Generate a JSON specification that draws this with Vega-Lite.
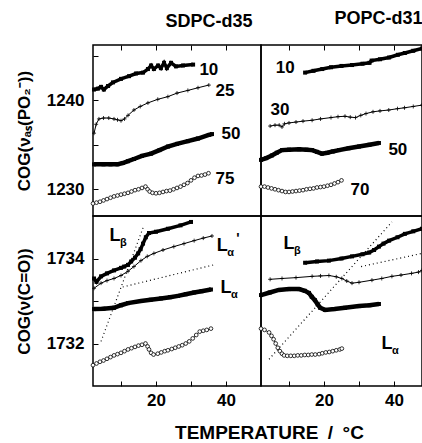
{
"$schema": "https://vega.github.io/schema/vega-lite/v6.json",
"padding": {"left": 14, "top": 8, "right": 0, "bottom": 0},
"config": {
 "font": "Liberation Sans",
 "view": {"stroke": "black", "strokeWidth": 1.5},
 "axis": {"domain": false, "grid": false, "tickColor": "black", "tickWidth": 1, "tickSize": -5, "labelPadding": 14, "labelFont": "Liberation Sans", "labelFontSize": 17, "labelFontWeight": "bold", "labelColor": "black", "titleFont": "Liberation Sans", "titleFontSize": 17, "titleFontWeight": "bold", "titleColor": "black"},
 "title": {"font": "Liberation Sans", "fontSize": 18, "fontWeight": "bold", "color": "black", "baseline": "alphabetic", "offset": 14},
 "line": {"color": "black"},
 "point": {"opacity": 1},
 "text": {"font": "Liberation Sans", "fontWeight": "bold", "color": "black"}
},
"data": {"values": [
{"p":"TL","s":"a","T":2.3,"v":1241.2},{"p":"TL","s":"a","T":3.4,"v":1241.3},{"p":"TL","s":"a","T":4.3,"v":1241.5},{"p":"TL","s":"a","T":5.1,"v":1241.2},{"p":"TL","s":"a","T":6.3,"v":1241.6},{"p":"TL","s":"a","T":7.7,"v":1242.0},{"p":"TL","s":"a","T":10,"v":1242.4},{"p":"TL","s":"a","T":12.3,"v":1242.7},{"p":"TL","s":"a","T":14.3,"v":1243.0},{"p":"TL","s":"a","T":16.3,"v":1243.1},{"p":"TL","s":"a","T":17.7,"v":1243.5},{"p":"TL","s":"a","T":18.6,"v":1243.9},{"p":"TL","s":"a","T":19.4,"v":1243.5},{"p":"TL","s":"a","T":20.6,"v":1243.9},{"p":"TL","s":"a","T":21.4,"v":1243.6},{"p":"TL","s":"a","T":22.3,"v":1244.2},{"p":"TL","s":"a","T":23.1,"v":1243.6},{"p":"TL","s":"a","T":24.3,"v":1244.2},{"p":"TL","s":"a","T":25.7,"v":1243.8},{"p":"TL","s":"a","T":27.7,"v":1243.9},{"p":"TL","s":"a","T":30.6,"v":1244.0},
{"p":"TL","s":"b","T":2.3,"v":1236.3},{"p":"TL","s":"b","T":2.9,"v":1237.3},{"p":"TL","s":"b","T":3.7,"v":1237.9},{"p":"TL","s":"b","T":5,"v":1238.0},{"p":"TL","s":"b","T":6.5,"v":1238.0},{"p":"TL","s":"b","T":8,"v":1237.9},{"p":"TL","s":"b","T":9,"v":1237.8},{"p":"TL","s":"b","T":10,"v":1237.7},{"p":"TL","s":"b","T":11,"v":1237.9},{"p":"TL","s":"b","T":12,"v":1238.3},{"p":"TL","s":"b","T":13.7,"v":1238.9},{"p":"TL","s":"b","T":15.5,"v":1239.3},{"p":"TL","s":"b","T":17.7,"v":1239.7},{"p":"TL","s":"b","T":20.5,"v":1240.1},{"p":"TL","s":"b","T":23.4,"v":1240.4},{"p":"TL","s":"b","T":26,"v":1240.8},{"p":"TL","s":"b","T":29.1,"v":1241.1},{"p":"TL","s":"b","T":32,"v":1241.4},{"p":"TL","s":"b","T":35.1,"v":1241.7},
{"p":"TL","s":"c","T":2.3,"v":1232.8},{"p":"TL","s":"c","T":5,"v":1232.8},{"p":"TL","s":"c","T":7,"v":1232.8},{"p":"TL","s":"c","T":9,"v":1232.8},{"p":"TL","s":"c","T":10.5,"v":1232.95},{"p":"TL","s":"c","T":12,"v":1233.15},{"p":"TL","s":"c","T":13.7,"v":1233.4},{"p":"TL","s":"c","T":16,"v":1233.75},{"p":"TL","s":"c","T":18.6,"v":1234.0},{"p":"TL","s":"c","T":21,"v":1234.4},{"p":"TL","s":"c","T":23.4,"v":1234.8},{"p":"TL","s":"c","T":26,"v":1235.1},{"p":"TL","s":"c","T":29.1,"v":1235.4},{"p":"TL","s":"c","T":32,"v":1235.7},{"p":"TL","s":"c","T":35.1,"v":1236.1},{"p":"TL","s":"c","T":36,"v":1236.2},
{"p":"TL","s":"d","T":2,"v":1228.4},{"p":"TL","s":"d","T":3,"v":1228.5},{"p":"TL","s":"d","T":4,"v":1228.6},{"p":"TL","s":"d","T":5,"v":1228.75},{"p":"TL","s":"d","T":6,"v":1228.9},{"p":"TL","s":"d","T":7,"v":1229.05},{"p":"TL","s":"d","T":8,"v":1229.2},{"p":"TL","s":"d","T":9,"v":1229.3},{"p":"TL","s":"d","T":10,"v":1229.4},{"p":"TL","s":"d","T":11,"v":1229.5},{"p":"TL","s":"d","T":12,"v":1229.6},{"p":"TL","s":"d","T":13,"v":1229.75},{"p":"TL","s":"d","T":14,"v":1229.9},{"p":"TL","s":"d","T":15,"v":1230.0},{"p":"TL","s":"d","T":16,"v":1230.15},{"p":"TL","s":"d","T":17,"v":1230.3},{"p":"TL","s":"d","T":17.6,"v":1230.0},{"p":"TL","s":"d","T":18.2,"v":1229.75},{"p":"TL","s":"d","T":19,"v":1229.6},{"p":"TL","s":"d","T":20,"v":1229.55},{"p":"TL","s":"d","T":21,"v":1229.6},{"p":"TL","s":"d","T":22,"v":1229.7},{"p":"TL","s":"d","T":23,"v":1229.8},{"p":"TL","s":"d","T":24,"v":1229.85},{"p":"TL","s":"d","T":25,"v":1230.0},{"p":"TL","s":"d","T":26,"v":1230.15},{"p":"TL","s":"d","T":27,"v":1230.3},{"p":"TL","s":"d","T":28,"v":1230.5},{"p":"TL","s":"d","T":29,"v":1230.7},{"p":"TL","s":"d","T":30,"v":1231.0},{"p":"TL","s":"d","T":31,"v":1231.3},{"p":"TL","s":"d","T":32,"v":1231.5},{"p":"TL","s":"d","T":33,"v":1231.55},{"p":"TL","s":"d","T":34,"v":1231.65},{"p":"TL","s":"d","T":35,"v":1231.8},
{"p":"TL","s":"lab","T":35.1,"v":1243.4,"t":"10"},{"p":"TL","s":"lab","T":39.7,"v":1241.0,"t":"25"},{"p":"TL","s":"lab","T":41.4,"v":1236.2,"t":"50"},{"p":"TL","s":"lab","T":39.7,"v":1231.2,"t":"75"},

{"p":"TR","s":"a","T":14.6,"v":1243.1},{"p":"TR","s":"a","T":17,"v":1243.3},{"p":"TR","s":"a","T":19.5,"v":1243.5},{"p":"TR","s":"a","T":22,"v":1243.7},{"p":"TR","s":"a","T":25,"v":1243.85},{"p":"TR","s":"a","T":28,"v":1243.95},{"p":"TR","s":"a","T":31,"v":1244.1},{"p":"TR","s":"a","T":33,"v":1244.2},{"p":"TR","s":"a","T":33.6,"v":1244.45},{"p":"TR","s":"a","T":36,"v":1244.6},{"p":"TR","s":"a","T":38.6,"v":1244.8},{"p":"TR","s":"a","T":41.1,"v":1245.1},{"p":"TR","s":"a","T":43.1,"v":1245.3},{"p":"TR","s":"a","T":45.5,"v":1245.55},{"p":"TR","s":"a","T":48,"v":1245.8},
{"p":"TR","s":"b","T":4.6,"v":1237.1},{"p":"TR","s":"b","T":6,"v":1237.2},{"p":"TR","s":"b","T":7.2,"v":1237.2},{"p":"TR","s":"b","T":8,"v":1237.0},{"p":"TR","s":"b","T":8.7,"v":1237.35},{"p":"TR","s":"b","T":10,"v":1237.45},{"p":"TR","s":"b","T":12,"v":1237.55},{"p":"TR","s":"b","T":14,"v":1237.65},{"p":"TR","s":"b","T":16.6,"v":1237.75},{"p":"TR","s":"b","T":19,"v":1237.9},{"p":"TR","s":"b","T":22,"v":1238.05},{"p":"TR","s":"b","T":24,"v":1238.15},{"p":"TR","s":"b","T":26,"v":1238.2},{"p":"TR","s":"b","T":27.5,"v":1238.1},{"p":"TR","s":"b","T":29,"v":1238.05},{"p":"TR","s":"b","T":30.5,"v":1238.3},{"p":"TR","s":"b","T":32,"v":1238.5},{"p":"TR","s":"b","T":34,"v":1238.7},{"p":"TR","s":"b","T":36,"v":1238.8},{"p":"TR","s":"b","T":38.5,"v":1238.9},{"p":"TR","s":"b","T":41,"v":1239.05},{"p":"TR","s":"b","T":43,"v":1239.15},{"p":"TR","s":"b","T":45.5,"v":1239.3},{"p":"TR","s":"b","T":48,"v":1239.45},
{"p":"TR","s":"c","T":2,"v":1233.3},{"p":"TR","s":"c","T":3.5,"v":1233.5},{"p":"TR","s":"c","T":5.1,"v":1233.8},{"p":"TR","s":"c","T":6.5,"v":1234.1},{"p":"TR","s":"c","T":8,"v":1234.4},{"p":"TR","s":"c","T":10,"v":1234.45},{"p":"TR","s":"c","T":12.9,"v":1234.5},{"p":"TR","s":"c","T":15,"v":1234.45},{"p":"TR","s":"c","T":16.6,"v":1234.4},{"p":"TR","s":"c","T":18,"v":1234.2},{"p":"TR","s":"c","T":19.4,"v":1234.0},{"p":"TR","s":"c","T":21,"v":1234.1},{"p":"TR","s":"c","T":22.5,"v":1234.25},{"p":"TR","s":"c","T":24.3,"v":1234.4},{"p":"TR","s":"c","T":27,"v":1234.6},{"p":"TR","s":"c","T":30,"v":1234.8},{"p":"TR","s":"c","T":33,"v":1235.0},{"p":"TR","s":"c","T":35.7,"v":1235.2},
{"p":"TR","s":"d","T":2,"v":1230.3},{"p":"TR","s":"d","T":3,"v":1230.3},{"p":"TR","s":"d","T":4,"v":1230.2},{"p":"TR","s":"d","T":5,"v":1230.1},{"p":"TR","s":"d","T":6,"v":1230.0},{"p":"TR","s":"d","T":7,"v":1229.9},{"p":"TR","s":"d","T":8,"v":1229.8},{"p":"TR","s":"d","T":9,"v":1229.7},{"p":"TR","s":"d","T":10,"v":1229.7},{"p":"TR","s":"d","T":11,"v":1229.75},{"p":"TR","s":"d","T":12,"v":1229.8},{"p":"TR","s":"d","T":13,"v":1229.85},{"p":"TR","s":"d","T":14,"v":1229.9},{"p":"TR","s":"d","T":15,"v":1230.0},{"p":"TR","s":"d","T":16,"v":1230.05},{"p":"TR","s":"d","T":17,"v":1230.1},{"p":"TR","s":"d","T":18,"v":1230.2},{"p":"TR","s":"d","T":19,"v":1230.25},{"p":"TR","s":"d","T":20,"v":1230.3},{"p":"TR","s":"d","T":21,"v":1230.4},{"p":"TR","s":"d","T":22,"v":1230.5},{"p":"TR","s":"d","T":23,"v":1230.65},{"p":"TR","s":"d","T":24,"v":1230.8},{"p":"TR","s":"d","T":25,"v":1231.0},
{"p":"TR","s":"lab","T":8.9,"v":1243.6,"t":"10"},{"p":"TR","s":"lab","T":7.4,"v":1238.9,"t":"30"},{"p":"TR","s":"lab","T":41.1,"v":1234.4,"t":"50"},{"p":"TR","s":"lab","T":30.3,"v":1229.9,"t":"70"},

{"p":"BL","s":"a","T":2.3,"v":1733.53},{"p":"BL","s":"a","T":3,"v":1733.45},{"p":"BL","s":"a","T":4.3,"v":1733.58},{"p":"BL","s":"a","T":6,"v":1733.65},{"p":"BL","s":"a","T":8,"v":1733.72},{"p":"BL","s":"a","T":10,"v":1733.78},{"p":"BL","s":"a","T":10.9,"v":1733.81},{"p":"BL","s":"a","T":12,"v":1733.85},{"p":"BL","s":"a","T":12.9,"v":1733.93},{"p":"BL","s":"a","T":14,"v":1734.02},{"p":"BL","s":"a","T":14.9,"v":1734.12},{"p":"BL","s":"a","T":15.6,"v":1734.22},{"p":"BL","s":"a","T":16.3,"v":1734.35},{"p":"BL","s":"a","T":17.1,"v":1734.5},{"p":"BL","s":"a","T":18,"v":1734.6},{"p":"BL","s":"a","T":20,"v":1734.63},{"p":"BL","s":"a","T":23.4,"v":1734.7},{"p":"BL","s":"a","T":27,"v":1734.78},{"p":"BL","s":"a","T":30,"v":1734.86},
{"p":"BL","s":"b","T":2.3,"v":1733.3},{"p":"BL","s":"b","T":4.3,"v":1733.42},{"p":"BL","s":"b","T":6,"v":1733.48},{"p":"BL","s":"b","T":8,"v":1733.53},{"p":"BL","s":"b","T":10,"v":1733.6},{"p":"BL","s":"b","T":12,"v":1733.7},{"p":"BL","s":"b","T":13.7,"v":1733.81},{"p":"BL","s":"b","T":15.7,"v":1733.95},{"p":"BL","s":"b","T":17.5,"v":1734.05},{"p":"BL","s":"b","T":19.4,"v":1734.12},{"p":"BL","s":"b","T":22,"v":1734.2},{"p":"BL","s":"b","T":25.1,"v":1734.28},{"p":"BL","s":"b","T":28,"v":1734.35},{"p":"BL","s":"b","T":30.9,"v":1734.42},{"p":"BL","s":"b","T":33.5,"v":1734.48},{"p":"BL","s":"b","T":36,"v":1734.53},
{"p":"BL","s":"c","T":2.3,"v":1732.81},{"p":"BL","s":"c","T":5,"v":1732.82},{"p":"BL","s":"c","T":8,"v":1732.84},{"p":"BL","s":"c","T":10,"v":1732.9},{"p":"BL","s":"c","T":12,"v":1732.95},{"p":"BL","s":"c","T":15.7,"v":1733.0},{"p":"BL","s":"c","T":18.5,"v":1733.03},{"p":"BL","s":"c","T":21.4,"v":1733.06},{"p":"BL","s":"c","T":24,"v":1733.09},{"p":"BL","s":"c","T":26.3,"v":1733.12},{"p":"BL","s":"c","T":28.5,"v":1733.16},{"p":"BL","s":"c","T":30.9,"v":1733.2},{"p":"BL","s":"c","T":33,"v":1733.23},{"p":"BL","s":"c","T":35.7,"v":1733.27},
{"p":"BL","s":"d","T":2,"v":1731.49},{"p":"BL","s":"d","T":3,"v":1731.53},{"p":"BL","s":"d","T":4,"v":1731.57},{"p":"BL","s":"d","T":5,"v":1731.6},{"p":"BL","s":"d","T":6,"v":1731.64},{"p":"BL","s":"d","T":7,"v":1731.68},{"p":"BL","s":"d","T":8,"v":1731.72},{"p":"BL","s":"d","T":9,"v":1731.75},{"p":"BL","s":"d","T":10,"v":1731.78},{"p":"BL","s":"d","T":11,"v":1731.82},{"p":"BL","s":"d","T":12,"v":1731.86},{"p":"BL","s":"d","T":13,"v":1731.89},{"p":"BL","s":"d","T":14,"v":1731.92},{"p":"BL","s":"d","T":15,"v":1731.95},{"p":"BL","s":"d","T":16,"v":1731.97},{"p":"BL","s":"d","T":17,"v":1732.0},{"p":"BL","s":"d","T":17.6,"v":1731.93},{"p":"BL","s":"d","T":18,"v":1731.86},{"p":"BL","s":"d","T":18.6,"v":1731.78},{"p":"BL","s":"d","T":19.3,"v":1731.74},{"p":"BL","s":"d","T":20.5,"v":1731.76},{"p":"BL","s":"d","T":21.5,"v":1731.79},{"p":"BL","s":"d","T":22.5,"v":1731.82},{"p":"BL","s":"d","T":23.4,"v":1731.84},{"p":"BL","s":"d","T":24.5,"v":1731.87},{"p":"BL","s":"d","T":25.5,"v":1731.9},{"p":"BL","s":"d","T":26.5,"v":1731.93},{"p":"BL","s":"d","T":27.5,"v":1731.96},{"p":"BL","s":"d","T":28.5,"v":1732.0},{"p":"BL","s":"d","T":29.5,"v":1732.05},{"p":"BL","s":"d","T":30.5,"v":1732.12},{"p":"BL","s":"d","T":31.5,"v":1732.2},{"p":"BL","s":"d","T":32.5,"v":1732.28},{"p":"BL","s":"d","T":33.5,"v":1732.3},{"p":"BL","s":"d","T":34.5,"v":1732.32},{"p":"BL","s":"d","T":35.7,"v":1732.35},
{"p":"BL","s":"f1","T":4.3,"v":1732.05},{"p":"BL","s":"f1","T":16.6,"v":1734.79},
{"p":"BL","s":"f2","T":10.5,"v":1733.33},{"p":"BL","s":"f2","T":36.5,"v":1733.85},
{"p":"BL","s":"lab","T":8.3,"v":1734.53,"t":"L","sub":"β"},{"p":"BL","s":"lab","T":38.9,"v":1734.3,"t":"L","sub":"α","sup":"'"},{"p":"BL","s":"lab","T":40,"v":1733.3,"t":"L","sub":"α"},

{"p":"BR","s":"a","T":14.6,"v":1733.9},{"p":"BR","s":"a","T":18,"v":1733.93},{"p":"BR","s":"a","T":21.4,"v":1733.95},{"p":"BR","s":"a","T":25,"v":1734.0},{"p":"BR","s":"a","T":28,"v":1734.05},{"p":"BR","s":"a","T":31,"v":1734.1},{"p":"BR","s":"a","T":32.9,"v":1734.14},{"p":"BR","s":"a","T":34.3,"v":1734.2},{"p":"BR","s":"a","T":35.7,"v":1734.28},{"p":"BR","s":"a","T":37,"v":1734.35},{"p":"BR","s":"a","T":38.6,"v":1734.42},{"p":"BR","s":"a","T":41,"v":1734.5},{"p":"BR","s":"a","T":43.1,"v":1734.58},{"p":"BR","s":"a","T":45.5,"v":1734.64},{"p":"BR","s":"a","T":48,"v":1734.7},
{"p":"BR","s":"b","T":4.6,"v":1733.51},{"p":"BR","s":"b","T":8,"v":1733.53},{"p":"BR","s":"b","T":12,"v":1733.55},{"p":"BR","s":"b","T":16.6,"v":1733.58},{"p":"BR","s":"b","T":19,"v":1733.59},{"p":"BR","s":"b","T":21.4,"v":1733.6},{"p":"BR","s":"b","T":23.5,"v":1733.57},{"p":"BR","s":"b","T":25.1,"v":1733.53},{"p":"BR","s":"b","T":26.5,"v":1733.47},{"p":"BR","s":"b","T":28,"v":1733.42},{"p":"BR","s":"b","T":30,"v":1733.44},{"p":"BR","s":"b","T":33.7,"v":1733.49},{"p":"BR","s":"b","T":36.5,"v":1733.53},{"p":"BR","s":"b","T":39.4,"v":1733.58},{"p":"BR","s":"b","T":42,"v":1733.61},{"p":"BR","s":"b","T":45,"v":1733.65},{"p":"BR","s":"b","T":47,"v":1733.68},{"p":"BR","s":"b","T":48,"v":1733.72},
{"p":"BR","s":"c","T":2,"v":1733.14},{"p":"BR","s":"c","T":4.5,"v":1733.2},{"p":"BR","s":"c","T":7.1,"v":1733.26},{"p":"BR","s":"c","T":10,"v":1733.28},{"p":"BR","s":"c","T":12.9,"v":1733.28},{"p":"BR","s":"c","T":14.5,"v":1733.24},{"p":"BR","s":"c","T":15.7,"v":1733.19},{"p":"BR","s":"c","T":16.5,"v":1733.1},{"p":"BR","s":"c","T":17.4,"v":1733.02},{"p":"BR","s":"c","T":18.2,"v":1732.92},{"p":"BR","s":"c","T":18.9,"v":1732.84},{"p":"BR","s":"c","T":20.3,"v":1732.79},{"p":"BR","s":"c","T":23,"v":1732.81},{"p":"BR","s":"c","T":26,"v":1732.84},{"p":"BR","s":"c","T":30,"v":1732.88},{"p":"BR","s":"c","T":33,"v":1732.9},{"p":"BR","s":"c","T":35.7,"v":1732.93},
{"p":"BR","s":"d","T":2,"v":1732.35},{"p":"BR","s":"d","T":3,"v":1732.32},{"p":"BR","s":"d","T":4.3,"v":1732.26},{"p":"BR","s":"d","T":5,"v":1732.18},{"p":"BR","s":"d","T":5.6,"v":1732.1},{"p":"BR","s":"d","T":6.2,"v":1732.0},{"p":"BR","s":"d","T":6.8,"v":1731.9},{"p":"BR","s":"d","T":7.4,"v":1731.82},{"p":"BR","s":"d","T":8,"v":1731.76},{"p":"BR","s":"d","T":8.6,"v":1731.72},{"p":"BR","s":"d","T":9.5,"v":1731.71},{"p":"BR","s":"d","T":10.5,"v":1731.71},{"p":"BR","s":"d","T":11.5,"v":1731.71},{"p":"BR","s":"d","T":12.5,"v":1731.72},{"p":"BR","s":"d","T":13.5,"v":1731.72},{"p":"BR","s":"d","T":14.5,"v":1731.73},{"p":"BR","s":"d","T":15.5,"v":1731.73},{"p":"BR","s":"d","T":16.5,"v":1731.74},{"p":"BR","s":"d","T":17.5,"v":1731.74},{"p":"BR","s":"d","T":18.6,"v":1731.75},{"p":"BR","s":"d","T":19.5,"v":1731.77},{"p":"BR","s":"d","T":20.5,"v":1731.79},{"p":"BR","s":"d","T":21.5,"v":1731.8},{"p":"BR","s":"d","T":22.5,"v":1731.82},{"p":"BR","s":"d","T":23.5,"v":1731.84},{"p":"BR","s":"d","T":24.5,"v":1731.86},{"p":"BR","s":"d","T":25.1,"v":1731.88},
{"p":"BR","s":"f1","T":4.3,"v":1731.63},{"p":"BR","s":"f1","T":39.4,"v":1734.86},
{"p":"BR","s":"f2","T":30.6,"v":1733.81},{"p":"BR","s":"f2","T":48,"v":1734.12},
{"p":"BR","s":"lab","T":10,"v":1734.35,"t":"L","sub":"β"},{"p":"BR","s":"lab","T":38,"v":1732.0,"t":"L","sub":"α"}
]},
"columns": 2,
"spacing": 0,
"bounds": "flush",
"concat": [
{
 "width": 168, "height": 171,
 "title": {"text": "SDPC-d35", "dx": 32},
 "transform": [{"filter": "datum.p == 'TL'"}],
 "encoding": {
  "x": {"field": "T", "type": "quantitative", "scale": {"domain": [2, 50], "nice": false, "zero": false}, "axis": {"orient": "top", "values": [10, 20, 30, 40], "labels": false, "title": null}},
  "y": {"field": "v", "type": "quantitative", "scale": {"domain": [1227, 1246.2], "nice": false, "zero": false}, "axis": {"title": "COG(νₐₛ(PO₂⁻))", "values": [1230, 1235, 1240, 1245], "format": "d", "labelExpr": "datum.value % 10 == 0 ? datum.label : ''", "minExtent": 49, "maxExtent": 49, "titlePadding": 11}}
 },
 "layer": [
  {"mark": {"type": "line", "strokeWidth": 3.5}, "transform": [{"filter": "datum.s == 'a'"}], "encoding": {}},
  {"mark": {"type": "line", "strokeWidth": 4.5}, "transform": [{"filter": "datum.s == 'c'"}], "encoding": {}},
  {"mark": {"type": "line", "strokeWidth": 1}, "transform": [{"filter": "datum.s == 'b'"}], "encoding": {}},
  {"mark": {"type": "line", "strokeWidth": 0.8}, "transform": [{"filter": "datum.s == 'd'"}], "encoding": {}},
  {"mark": {"type": "point", "shape": "square", "filled": true, "color": "black", "size": 16}, "transform": [{"filter": "datum.s == 'a' || datum.s == 'c'"}], "encoding": {}},
  {"mark": {"type": "point", "shape": "M-1,0H1M0,-1V1", "filled": false, "color": "black", "strokeWidth": 0.8, "size": 16}, "transform": [{"filter": "datum.s == 'b'"}], "encoding": {}},
  {"mark": {"type": "point", "shape": "circle", "filled": true, "fill": "white", "stroke": "black", "strokeWidth": 0.8, "size": 14}, "transform": [{"filter": "datum.s == 'd'"}], "encoding": {}},
  {"mark": {"type": "text", "fontSize": 17, "align": "center", "baseline": "middle"}, "transform": [{"filter": "datum.s == 'lab'"}], "encoding": {"text": {"field": "t"}}}
 ]
},
{
 "width": 161, "height": 171,
 "title": {"text": "POPC-d31", "dx": 37},
 "transform": [{"filter": "datum.p == 'TR'"}],
 "encoding": {
  "x": {"field": "T", "type": "quantitative", "scale": {"domain": [2, 48], "nice": false, "zero": false}, "axis": {"orient": "top", "values": [10, 20, 30, 40], "labels": false, "title": null}},
  "y": {"field": "v", "type": "quantitative", "scale": {"domain": [1227, 1246.2], "nice": false, "zero": false}, "axis": null}
 },
 "layer": [
  {"mark": {"type": "line", "strokeWidth": 3.5}, "transform": [{"filter": "datum.s == 'a'"}], "encoding": {}},
  {"mark": {"type": "line", "strokeWidth": 4.5}, "transform": [{"filter": "datum.s == 'c'"}], "encoding": {}},
  {"mark": {"type": "line", "strokeWidth": 1}, "transform": [{"filter": "datum.s == 'b'"}], "encoding": {}},
  {"mark": {"type": "line", "strokeWidth": 0.8}, "transform": [{"filter": "datum.s == 'd'"}], "encoding": {}},
  {"mark": {"type": "point", "shape": "square", "filled": true, "color": "black", "size": 16}, "transform": [{"filter": "datum.s == 'a' || datum.s == 'c'"}], "encoding": {}},
  {"mark": {"type": "point", "shape": "M-1,0H1M0,-1V1", "filled": false, "color": "black", "strokeWidth": 0.8, "size": 16}, "transform": [{"filter": "datum.s == 'b'"}], "encoding": {}},
  {"mark": {"type": "point", "shape": "circle", "filled": true, "fill": "white", "stroke": "black", "strokeWidth": 0.8, "size": 14}, "transform": [{"filter": "datum.s == 'd'"}], "encoding": {}},
  {"mark": {"type": "text", "fontSize": 17, "align": "center", "baseline": "middle"}, "transform": [{"filter": "datum.s == 'lab'"}], "encoding": {"text": {"field": "t"}}}
 ]
},
{
 "width": 168, "height": 170,
 "transform": [{"filter": "datum.p == 'BL'"}],
 "encoding": {
  "x": {"field": "T", "type": "quantitative", "scale": {"domain": [2, 50], "nice": false, "zero": false}, "axis": {"values": [10, 20, 30, 40], "labelExpr": "datum.value % 20 == 0 ? datum.label : ''", "labelPadding": 11, "title": "TEMPERATURE\u2002/\u2002°C", "titleX": 176, "titleY": 52, "titleAlign": "center", "titleBaseline": "alphabetic", "titleFontSize": 19}},
  "y": {"field": "v", "type": "quantitative", "scale": {"domain": [1731, 1735], "nice": false, "zero": false}, "axis": {"title": "COG(ν(C=O))", "values": [1732, 1733, 1734], "format": "d", "labelExpr": "datum.value % 2 == 0 ? datum.label : ''", "minExtent": 49, "maxExtent": 49, "titlePadding": 11}}
 },
 "layer": [
  {"mark": {"type": "line", "strokeWidth": 3.5}, "transform": [{"filter": "datum.s == 'a'"}], "encoding": {}},
  {"mark": {"type": "line", "strokeWidth": 4.5}, "transform": [{"filter": "datum.s == 'c'"}], "encoding": {}},
  {"mark": {"type": "line", "strokeWidth": 1}, "transform": [{"filter": "datum.s == 'b'"}], "encoding": {}},
  {"mark": {"type": "line", "strokeWidth": 0.8}, "transform": [{"filter": "datum.s == 'd'"}], "encoding": {}},
  {"mark": {"type": "line", "strokeWidth": 1.2, "strokeDash": [1, 3]}, "transform": [{"filter": "datum.s == 'f1' || datum.s == 'f2'"}], "encoding": {"detail": {"field": "s"}}},
  {"mark": {"type": "point", "shape": "square", "filled": true, "color": "black", "size": 16}, "transform": [{"filter": "datum.s == 'a' || datum.s == 'c'"}], "encoding": {}},
  {"mark": {"type": "point", "shape": "M-1,0H1M0,-1V1", "filled": false, "color": "black", "strokeWidth": 0.8, "size": 16}, "transform": [{"filter": "datum.s == 'b'"}], "encoding": {}},
  {"mark": {"type": "point", "shape": "circle", "filled": true, "fill": "white", "stroke": "black", "strokeWidth": 0.8, "size": 14}, "transform": [{"filter": "datum.s == 'd'"}], "encoding": {}},
  {"mark": {"type": "text", "fontSize": 18, "align": "center", "baseline": "middle"}, "transform": [{"filter": "datum.s == 'lab'"}], "encoding": {"text": {"field": "t"}}},
  {"mark": {"type": "text", "fontSize": 11, "align": "left", "baseline": "middle", "dx": 5, "dy": 7}, "transform": [{"filter": "datum.s == 'lab' && datum.sub"}], "encoding": {"text": {"field": "sub"}}},
  {"mark": {"type": "text", "fontSize": 14, "align": "left", "baseline": "middle", "dx": 14, "dy": -7}, "transform": [{"filter": "datum.s == 'lab' && datum.sup"}], "encoding": {"text": {"field": "sup"}}}
 ]
},
{
 "width": 161, "height": 170,
 "transform": [{"filter": "datum.p == 'BR'"}],
 "encoding": {
  "x": {"field": "T", "type": "quantitative", "scale": {"domain": [2, 48], "nice": false, "zero": false}, "axis": {"values": [10, 20, 30, 40], "labelExpr": "datum.value % 20 == 0 ? datum.label : ''", "labelPadding": 11, "title": null}},
  "y": {"field": "v", "type": "quantitative", "scale": {"domain": [1731, 1735], "nice": false, "zero": false}, "axis": null}
 },
 "layer": [
  {"mark": {"type": "line", "strokeWidth": 3.5}, "transform": [{"filter": "datum.s == 'a'"}], "encoding": {}},
  {"mark": {"type": "line", "strokeWidth": 4.5}, "transform": [{"filter": "datum.s == 'c'"}], "encoding": {}},
  {"mark": {"type": "line", "strokeWidth": 1}, "transform": [{"filter": "datum.s == 'b'"}], "encoding": {}},
  {"mark": {"type": "line", "strokeWidth": 0.8}, "transform": [{"filter": "datum.s == 'd'"}], "encoding": {}},
  {"mark": {"type": "line", "strokeWidth": 1.2, "strokeDash": [1, 3]}, "transform": [{"filter": "datum.s == 'f1' || datum.s == 'f2'"}], "encoding": {"detail": {"field": "s"}}},
  {"mark": {"type": "point", "shape": "square", "filled": true, "color": "black", "size": 16}, "transform": [{"filter": "datum.s == 'a' || datum.s == 'c'"}], "encoding": {}},
  {"mark": {"type": "point", "shape": "M-1,0H1M0,-1V1", "filled": false, "color": "black", "strokeWidth": 0.8, "size": 16}, "transform": [{"filter": "datum.s == 'b'"}], "encoding": {}},
  {"mark": {"type": "point", "shape": "circle", "filled": true, "fill": "white", "stroke": "black", "strokeWidth": 0.8, "size": 14}, "transform": [{"filter": "datum.s == 'd'"}], "encoding": {}},
  {"mark": {"type": "text", "fontSize": 18, "align": "center", "baseline": "middle"}, "transform": [{"filter": "datum.s == 'lab'"}], "encoding": {"text": {"field": "t"}}},
  {"mark": {"type": "text", "fontSize": 11, "align": "left", "baseline": "middle", "dx": 5, "dy": 7}, "transform": [{"filter": "datum.s == 'lab' && datum.sub"}], "encoding": {"text": {"field": "sub"}}}
 ]
}
]
}
